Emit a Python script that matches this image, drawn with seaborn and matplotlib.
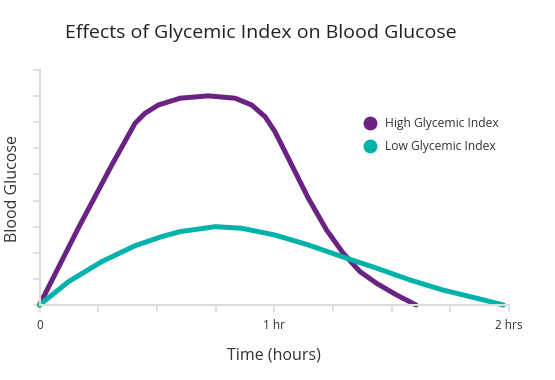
import numpy as np
import pandas as pd
import seaborn as sns
import matplotlib.pyplot as plt
from matplotlib.lines import Line2D

# Data (x in hours, y in arbitrary glucose units)
high_x = [0, 0.165, 0.308, 0.407, 0.449, 0.506, 0.599, 0.719, 0.833, 0.904,
          0.961, 1.003, 1.060, 1.145, 1.223, 1.294, 1.365, 1.436, 1.522, 1.604]
high_y = [0, 2.94, 5.36, 6.96, 7.34, 7.66, 7.92, 8.01, 7.92, 7.66,
          7.21, 6.64, 5.62, 4.09, 2.87, 1.98, 1.28, 0.83, 0.38, 0]
low_x = [0, 0.123, 0.265, 0.407, 0.521, 0.599, 0.748, 0.861, 1.003, 1.145,
         1.309, 1.436, 1.578, 1.720, 1.862, 1.976]
low_y = [0, 0.89, 1.66, 2.27, 2.62, 2.81, 3.00, 2.94, 2.68, 2.30,
         1.79, 1.41, 0.96, 0.57, 0.26, 0]
series = ['High Glycemic Index', 'Low Glycemic Index']
colors = ['#6a2383', '#00b2a9']
xtick_pos = [0, 0.25, 0.5, 0.75, 1, 1.25, 1.5, 1.75, 2]
xtick_labels = ['0', '', '', '', '1 hr', '', '', '', '2 hrs']

df = pd.concat([
    pd.DataFrame({'time': high_x, 'glucose': high_y, 'series': series[0]}),
    pd.DataFrame({'time': low_x, 'glucose': low_y, 'series': series[1]}),
])

sns.set_style('white')
plt.rcParams['font.family'] = ['Open Sans', 'DejaVu Sans']
text_col = '#333333'
axis_col = '#dcdcdc'

fig = plt.figure(figsize=(5.55, 3.8), dpi=100)
ax = fig.add_axes([39.5 / 555, 75 / 380, (509 - 39.5) / 555, (305 - 70) / 380])

sns.lineplot(data=df, x='time', y='glucose', hue='series', palette=colors,
             linewidth=3.6, ax=ax, legend=False, sort=False,
             solid_capstyle='round', solid_joinstyle='round', clip_on=False)

ax.set_xlim(0, 2)
ax.set_ylim(0, 9)
ax.set_xticks(xtick_pos)
ax.set_xticklabels(xtick_labels, color=text_col, fontsize=8.5)
ax.set_yticks(np.arange(0, 10))
ax.set_yticklabels([])
ax.tick_params(axis='both', direction='out', length=5, width=1.2, color=axis_col,
               bottom=True, left=True, pad=5)

sns.despine(ax=ax)
for side in ['left', 'bottom']:
    ax.spines[side].set_color(axis_col)
    ax.spines[side].set_linewidth(1.5)

ax.set_xlabel('Time (hours)', fontsize=11.5, color=text_col, labelpad=11)
ax.set_ylabel('')
fig.text(13 / 555, 1 - 188 / 380, 'Blood Glucose', rotation=90,
         ha='center', va='center', fontsize=11.5, color=text_col)
fig.text(261 / 555, 1 - 33 / 380, 'Effects of Glycemic Index on Blood Glucose',
         ha='center', va='center', fontsize=14, color='#222222')

handles = [Line2D([], [], marker='o', linestyle='', markersize=9, color=c) for c in colors]
ax.legend(handles, series, loc='upper left', frameon=False,
          bbox_to_anchor=(347 / 555, 1 - 106 / 380), bbox_transform=fig.transFigure,
          handletextpad=0.25, labelspacing=0.85, fontsize=8.7, labelcolor=text_col)

fig.savefig('out.png', dpi=100)
